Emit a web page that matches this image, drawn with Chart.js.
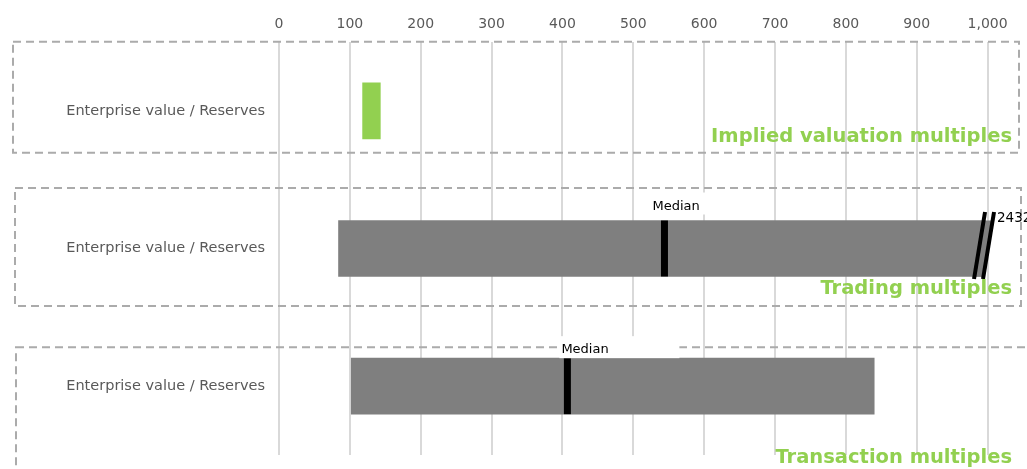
<!DOCTYPE html>
<html>
<head>
<meta charset="utf-8">
<script src="https://cdn.jsdelivr.net/npm/chart.js@4.4.0/dist/chart.umd.min.js"></script>
<style>
  html, body { margin: 0; padding: 0; background: #fff; }
  #wrap { width: 1027px; height: 469px; position: relative; }
</style>
</head>
<body>
<div id="wrap"><canvas id="multiplesChart"></canvas></div>
<script>
// Valuation ranges per section (EV / Reserves)
var sections = ['Implied valuation multiples', 'Trading multiples', 'Transaction multiples'];
var metrics = ['Enterprise value / Reserves', 'Enterprise value / Reserves', 'Enterprise value / Reserves'];
var lowValues = [118, 84, 102];
var highValues = [143, 2432, 840];
var medianValues = [null, 544, 407];
var xTickValues = [0, 100, 200, 300, 400, 500, 600, 700, 800, 900, 1000];

// values past this point are cut off with a break mark
var axisBreak = 995;

// dashed frames around each section, relative to the row centre
var frames = [
  { left: 13, right: 1019, top: -69, bottom: 42 },
  { left: 15, right: 1021, top: -60.5, bottom: 57.5 },
  { left: 16, right: 1060, top: -39, bottom: 120 }
];
var titleOffsets = [31, 45.5, 77];
var medianTags = [null, { dx: -12, dy: -11, w: 56 }, { dx: -6, dy: -5, w: 120 }];

var green = '#92d050';
var grey = '#7f7f7f';
var barHalf = 28;

var decorations = {
  id: 'decorations',
  beforeDatasetsDraw: function(chart) {
    var ctx = chart.ctx, yScale = chart.scales.y;
    ctx.save();
    ctx.setLineDash([8, 5]);
    ctx.lineWidth = 2;
    ctx.strokeStyle = '#ababab';
    sections.forEach(function(s, i) {
      var c = yScale.getPixelForValue(i);
      var f = frames[i];
      ctx.strokeRect(f.left, c + f.top, f.right - f.left, f.bottom - f.top);
    });
    ctx.restore();
  },
  afterDatasetsDraw: function(chart) {
    var ctx = chart.ctx, xScale = chart.scales.x, yScale = chart.scales.y;
    ctx.save();

    // "Median" tags
    ctx.font = '13px "DejaVu Sans"';
    ctx.textAlign = 'left';
    ctx.textBaseline = 'alphabetic';
    medianValues.forEach(function(m, i) {
      if (m === null) return;
      var t = medianTags[i];
      var x = xScale.getPixelForValue(m) + t.dx;
      var base = yScale.getPixelForValue(i) - barHalf + t.dy;
      ctx.fillStyle = '#fff';
      ctx.fillRect(x - 2, base - 17, t.w, 22);
      ctx.fillStyle = '#000';
      ctx.fillText('Median', x, base);
    });

    // axis break marks for values beyond the scale
    highValues.forEach(function(h, i) {
      if (h <= axisBreak) return;
      var c = yScale.getPixelForValue(i);
      var top = c - barHalf, bottom = c + barHalf;
      var yt = top - 8.5, yb = bottom + 2.5;
      var bx = xScale.getPixelForValue(axisBreak);
      var lineX = function(xc, y) { return xc - 5.5 + 11 * (yb - y) / (yb - yt); };
      var x1 = bx - 4.5, x2 = bx + 4.5;

      ctx.fillStyle = grey;
      ctx.beginPath();
      ctx.moveTo(lineX(x1, top), top);
      ctx.lineTo(lineX(x2, top), top);
      ctx.lineTo(lineX(x2, bottom), bottom);
      ctx.lineTo(lineX(x1, bottom), bottom);
      ctx.closePath();
      ctx.fill();

      ctx.strokeStyle = '#000';
      ctx.lineWidth = 4;
      [x1, x2].forEach(function(xc) {
        ctx.beginPath();
        ctx.moveTo(lineX(xc, yb), yb);
        ctx.lineTo(lineX(xc, yt), yt);
        ctx.stroke();
      });

      ctx.fillStyle = '#000';
      ctx.font = '13.5px "DejaVu Sans"';
      ctx.fillText(String(h), bx + 13, top + 1);
    });

    // section titles
    ctx.font = 'bold 19.5px "DejaVu Sans"';
    ctx.textAlign = 'right';
    ctx.fillStyle = green;
    sections.forEach(function(s, i) {
      var c = yScale.getPixelForValue(i);
      ctx.fillText(s, chart.chartArea.right - 11, c + titleOffsets[i]);
    });
    ctx.restore();
  }
};

var ctxMultiples = document.getElementById('multiplesChart').getContext('2d');

var medianPoints = [];
medianValues.forEach(function(m, i) {
  if (m !== null) medianPoints.push({ x: m, y: sections[i] });
});

var rangeBars = lowValues.map(function(lo, i) {
  return [lo, Math.min(highValues[i], axisBreak)];
});

var multiplesChart = new Chart(ctxMultiples, {
  type: 'bar',
  data: {
    labels: sections,
    datasets: [{
      type: 'scatter',
      data: medianPoints,
      pointStyle: 'line',
      rotation: 90,
      radius: 28,
      hoverRadius: 28,
      borderWidth: 7,
      hoverBorderWidth: 7,
      borderColor: '#000',
      backgroundColor: '#000',
      order: 0
    }, {
      data: rangeBars,
      backgroundColor: [green, grey, grey],
      borderWidth: 0,
      barThickness: 56,
      order: 1
    }]
  },
  options: {
    indexAxis: 'y',
    responsive: true,
    maintainAspectRatio: false,
    animation: false,
    layout: {
      autoPadding: false,
      padding: { left: 0, right: 4, top: 0, bottom: 14 }
    },
    plugins: {
      legend: { display: false },
      tooltip: { enabled: false }
    },
    scales: {
      x: {
        type: 'linear',
        position: 'top',
        min: 0,
        max: 1050,
        afterBuildTicks: function(scale) {
          scale.ticks = xTickValues.map(function(v) { return { value: v }; });
        },
        afterFit: function(scale) {
          scale.height = 42;
          scale.paddingLeft = 0;
          scale.paddingRight = 0;
        },
        ticks: {
          color: '#595959',
          font: { family: 'DejaVu Sans', size: 14 },
          padding: 9,
          callback: function(v) { return Number(v).toLocaleString('en-US'); }
        },
        grid: { color: '#d9d9d9', lineWidth: 2, drawTicks: false },
        border: { display: false }
      },
      y: {
        type: 'category',
        afterFit: function(scale) {
          scale.width = 279;
          scale.paddingTop = 0;
          scale.paddingBottom = 0;
        },
        ticks: {
          color: '#595959',
          font: { family: 'DejaVu Sans', size: 14.5 },
          padding: 14,
          callback: function(v, i) { return metrics[i]; }
        },
        grid: { display: false, drawTicks: false },
        border: { display: false }
      }
    }
  },
  plugins: [decorations]
});
</script>
</body>
</html>
